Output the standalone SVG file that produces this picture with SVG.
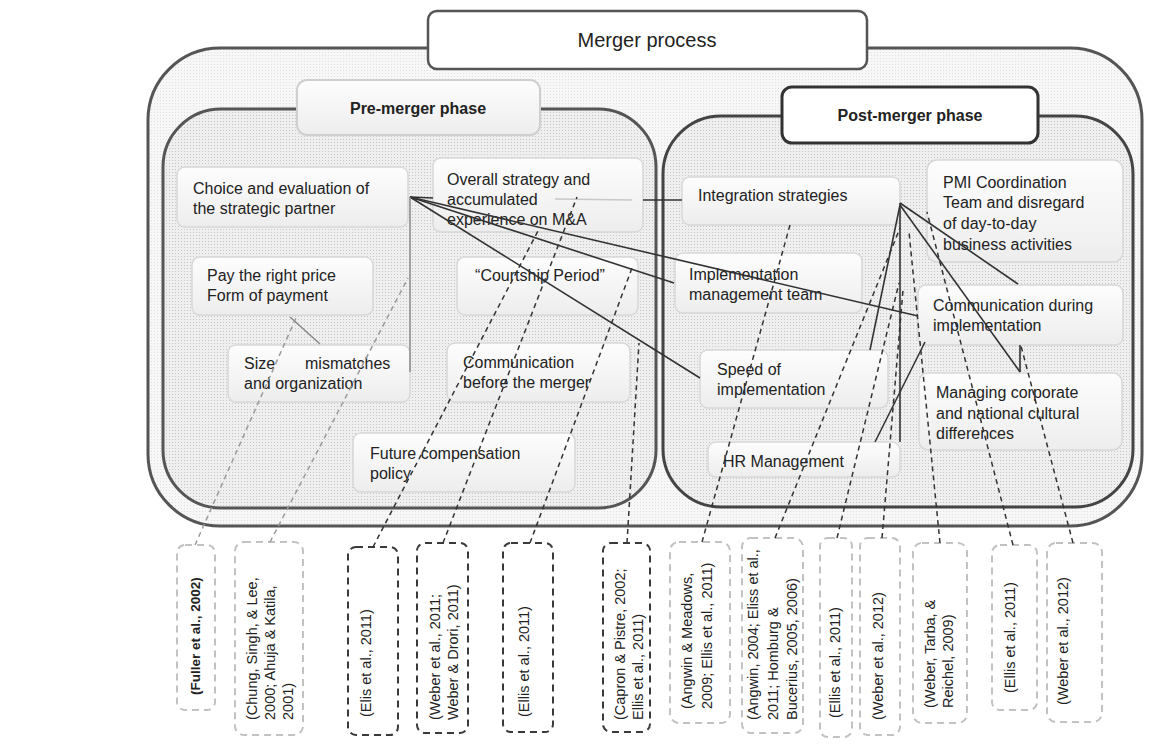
<svg xmlns="http://www.w3.org/2000/svg" width="1155" height="747" viewBox="0 0 1155 747">
<defs>
<pattern id="dotsIn" width="3" height="3" patternUnits="userSpaceOnUse"><rect width="3" height="3" fill="#efefef"/><rect x="1" y="1" width="1" height="1" fill="#c6c6c6"/></pattern>
<pattern id="dotsOut" width="3" height="3" patternUnits="userSpaceOnUse"><rect width="3" height="3" fill="#f7f7f7"/><rect x="1" y="1" width="1" height="1" fill="#e0e0e0"/></pattern>
<linearGradient id="nodeG" x1="0" y1="0" x2="0" y2="1"><stop offset="0" stop-color="#fdfdfd"/><stop offset="1" stop-color="#ededed"/></linearGradient>
<style>
text{font-family:"Liberation Sans",Arial,sans-serif;fill:#222}
.nt{font-size:16px}
.bt{font-size:16px;font-weight:bold}
.ct{font-size:14.5px}
.node rect{fill:url(#nodeG);stroke:#d8d8d8;stroke-width:1.5}
.cbL{fill:#fff;stroke:#c2c2c2;stroke-width:2;stroke-dasharray:7 5}
.cbD{fill:#fff;stroke:#3a3a3a;stroke-width:2;stroke-dasharray:7 5}
.ln{stroke:#333;stroke-width:1.6;fill:none}
.lg{stroke:#888;stroke-width:1.5;fill:none}
.dl{stroke:#333;stroke-width:1.5;stroke-dasharray:5 4;fill:none}
.dlL{stroke:#9a9a9a;stroke-width:1.5;stroke-dasharray:5 4;fill:none}
</style>
</defs>
<rect width="1155" height="747" fill="#fff"/>

<g id="merger-process">
<rect x="148" y="48" width="994" height="478" rx="72" fill="url(#dotsOut)" stroke="#555" stroke-width="3"/>
<rect x="428" y="11" width="439" height="58" rx="9" fill="#fff" stroke="#555" stroke-width="2.5"/>
<text x="647" y="47" text-anchor="middle" style="font-size:20px">Merger process</text>
</g>

<g id="pre-merger-phase">
<rect x="163" y="109" width="493" height="399" rx="58" fill="url(#dotsIn)" stroke="#555" stroke-width="3"/>
<rect x="297" y="80" width="243" height="55" rx="10" fill="url(#nodeG)" stroke="#cfcfcf" stroke-width="2"/>
<text class="bt" x="418" y="114" text-anchor="middle">Pre-merger phase</text>
</g>

<g id="post-merger-phase">
<rect x="663" y="116" width="470" height="391" rx="58" fill="url(#dotsIn)" stroke="#444" stroke-width="3"/>
<rect x="782" y="87" width="256" height="56" rx="10" fill="#fff" stroke="#333" stroke-width="3"/>
<text class="bt" x="910" y="121" text-anchor="middle">Post-merger phase</text>
</g>

<g id="n-choice" class="node"><rect x="177" y="167" width="231" height="60" rx="8"/><text class="nt" x="193" y="194">Choice and evaluation of</text><text class="nt" x="193" y="214">the strategic partner</text></g>
<g id="n-overall" class="node"><rect x="433" y="158" width="210" height="74" rx="8"/><text class="nt" x="447" y="185">Overall strategy and</text><text class="nt" x="447" y="205">accumulated</text><text class="nt" x="447" y="225">experience on M&amp;A</text></g>
<g id="n-pay" class="node"><rect x="192" y="257" width="181" height="58" rx="8"/><text class="nt" x="207" y="281">Pay the right price</text><text class="nt" x="207" y="301">Form of payment</text></g>
<g id="n-size" class="node"><rect x="228" y="345" width="182" height="57" rx="8"/><text class="nt" x="244" y="369">Size</text><text class="nt" x="305" y="369">mismatches</text><text class="nt" x="244" y="389">and organization</text></g>
<g id="n-courtship" class="node"><rect x="457" y="257" width="181" height="58" rx="8"/><text class="nt" x="540" y="281" text-anchor="middle">“Courtship Period”</text></g>
<g id="n-comm-before" class="node"><rect x="447" y="343" width="183" height="59" rx="8"/><text class="nt" x="463" y="368">Communication</text><text class="nt" x="463" y="388">before the merger</text></g>
<g id="n-future" class="node"><rect x="353" y="433" width="222" height="59" rx="8"/><text class="nt" x="370" y="459">Future compensation</text><text class="nt" x="370" y="479">policy</text></g>

<g id="n-integration" class="node"><rect x="682" y="177" width="218" height="48" rx="8"/><text class="nt" x="698" y="201">Integration strategies</text></g>
<g id="n-pmi" class="node"><rect x="927" y="160" width="196" height="102" rx="10"/><text class="nt" x="943" y="188">PMI Coordination</text><text class="nt" x="943" y="208">Team and disregard</text><text class="nt" x="943" y="229">of day-to-day</text><text class="nt" x="943" y="250">business activities</text></g>
<g id="n-imt" class="node"><rect x="675" y="253" width="187" height="60" rx="8"/><text class="nt" x="689" y="280">Implementation</text><text class="nt" x="689" y="300">management team</text></g>
<g id="n-comm-during" class="node"><rect x="918" y="285" width="205" height="60" rx="8"/><text class="nt" x="933" y="311">Communication during</text><text class="nt" x="933" y="331">implementation</text></g>
<g id="n-speed" class="node"><rect x="700" y="350" width="188" height="58" rx="8"/><text class="nt" x="717" y="375">Speed of</text><text class="nt" x="717" y="395">implementation</text></g>
<g id="n-managing" class="node"><rect x="919" y="373" width="203" height="77" rx="9"/><text class="nt" x="936" y="398">Managing corporate</text><text class="nt" x="936" y="419">and national cultural</text><text class="nt" x="936" y="439">differences</text></g>
<g id="n-hr" class="node"><rect x="708" y="442" width="192" height="35" rx="8"/><text class="nt" x="723" y="467">HR Management</text></g>

<g id="c1"><rect class="cbL" x="177" y="545" width="38" height="165" rx="8"/><text class="ct" transform="translate(195,695) rotate(-90)" style="font-weight:bold;font-size:13.5px"><tspan x="0" y="5">(Fuller et al., 2002)</tspan></text></g>
<g id="c2"><rect class="cbL" x="235" y="542" width="68" height="193" rx="9"/><text class="ct" transform="translate(252,720) rotate(-90)"><tspan x="0" y="5">(Chung, Singh, &amp; Lee,</tspan><tspan x="0" y="23">2000; Ahuja &amp; Katila,</tspan><tspan x="0" y="41">2001)</tspan></text></g>
<g id="c3"><rect class="cbD" x="348" y="547" width="50" height="188" rx="8"/><text class="ct" transform="translate(366,717) rotate(-90)"><tspan x="0" y="5">(Elis et al., 2011)</tspan></text></g>
<g id="c4"><rect class="cbD" x="417" y="543" width="51" height="190" rx="8"/><text class="ct" transform="translate(435,720) rotate(-90)"><tspan x="0" y="5">(Weber et al., 2011;</tspan><tspan x="0" y="23">Weber &amp; Drori, 2011)</tspan></text></g>
<g id="c5"><rect class="cbD" x="503" y="543" width="50" height="189" rx="8"/><text class="ct" transform="translate(524,717) rotate(-90)"><tspan x="0" y="5">(Ellis et al., 2011)</tspan></text></g>
<g id="c6"><rect class="cbD" x="603" y="543" width="47" height="189" rx="8"/><text class="ct" transform="translate(620,720) rotate(-90)"><tspan x="0" y="5">(Capron &amp; Pistre, 2002;</tspan><tspan x="0" y="23">Ellis et al., 2011)</tspan></text></g>
<g id="c7"><rect class="cbL" x="670" y="542" width="60" height="181" rx="9"/><text class="ct" transform="translate(687,709) rotate(-90)"><tspan x="0" y="5">(Angwin &amp; Meadows,</tspan><tspan x="0" y="25">2009; Ellis et al., 2011)</tspan></text></g>
<g id="c8"><rect class="cbL" x="742" y="538" width="61" height="195" rx="9"/><text class="ct" transform="translate(753,720) rotate(-90)"><tspan x="0" y="5">(Angwin, 2004; Eliss et al.,</tspan><tspan x="0" y="25">2011; Homburg &amp;</tspan><tspan x="0" y="44">Bucerius, 2005, 2006)</tspan></text></g>
<g id="c9"><rect class="cbL" x="820" y="538" width="32" height="199" rx="8"/><text class="ct" transform="translate(835,718) rotate(-90)"><tspan x="0" y="5">(Ellis et al., 2011)</tspan></text></g>
<g id="c10"><rect class="cbL" x="860" y="538" width="40" height="197" rx="8"/><text class="ct" transform="translate(878,720) rotate(-90)"><tspan x="0" y="5">(Weber et al., 2012)</tspan></text></g>
<g id="c11"><rect class="cbL" x="913" y="543" width="54" height="180" rx="9"/><text class="ct" transform="translate(930,708) rotate(-90)"><tspan x="0" y="5">(Weber, Tarba, &amp;</tspan><tspan x="0" y="23">Reichel, 2009)</tspan></text></g>
<g id="c12"><rect class="cbL" x="992" y="545" width="45" height="165" rx="8"/><text class="ct" transform="translate(1010,693) rotate(-90)"><tspan x="0" y="5">(Ellis et al., 2011)</tspan></text></g>
<g id="c13"><rect class="cbL" x="1047" y="543" width="55" height="179" rx="9"/><text class="ct" transform="translate(1063,705) rotate(-90)"><tspan x="0" y="5">(Weber et al., 2012)</tspan></text></g>

<g id="connectors">
<line class="ln" x1="410" y1="197" x2="433" y2="198"/>
<line x1="555" y1="199" x2="632" y2="200" stroke="#c8c8c8" stroke-width="1.5"/>
<line class="ln" x1="643" y1="200" x2="682" y2="200"/>
<line class="ln" x1="410" y1="197" x2="674" y2="283"/>
<line class="ln" x1="410" y1="197" x2="918" y2="316"/>
<line class="ln" x1="410" y1="197" x2="700" y2="378"/>
<line class="lg" x1="410" y1="197" x2="410" y2="372"/>
<line class="lg" x1="290" y1="317" x2="320" y2="344" stroke="#777" stroke-width="1.2"/>
<line class="ln" x1="900" y1="203" x2="1018" y2="284"/>
<line class="ln" x1="900" y1="203" x2="900" y2="442" stroke-width="2"/>
<line class="ln" x1="900" y1="205" x2="870" y2="350"/>
<line class="ln" x1="900" y1="205" x2="1020" y2="372"/>
<line class="ln" x1="1020" y1="345" x2="1020" y2="372" stroke-width="2.2"/>
<line class="ln" x1="925" y1="342" x2="875" y2="442"/>
<line class="dlL" x1="195" y1="545" x2="296" y2="318"/>
<line class="dlL" x1="270" y1="542" x2="408" y2="278"/>
<line class="dl" x1="373" y1="547" x2="538" y2="231"/>
<line class="dl" x1="443" y1="543" x2="577" y2="197"/>
<line class="dl" x1="530" y1="543" x2="632" y2="268"/>
<line class="dl" x1="627" y1="543" x2="639" y2="343"/>
<line class="dl" x1="702" y1="542" x2="790" y2="225"/>
<line class="dl" x1="775" y1="538" x2="900" y2="228"/>
<line class="dl" x1="837" y1="538" x2="899" y2="283"/>
<line class="dl" x1="882" y1="538" x2="903" y2="290"/>
<line class="dl" x1="940" y1="543" x2="909" y2="232"/>
<line class="dl" x1="1013" y1="545" x2="927" y2="212"/>
<line class="dl" x1="1073" y1="543" x2="1021" y2="346"/>
</g>
</svg>
